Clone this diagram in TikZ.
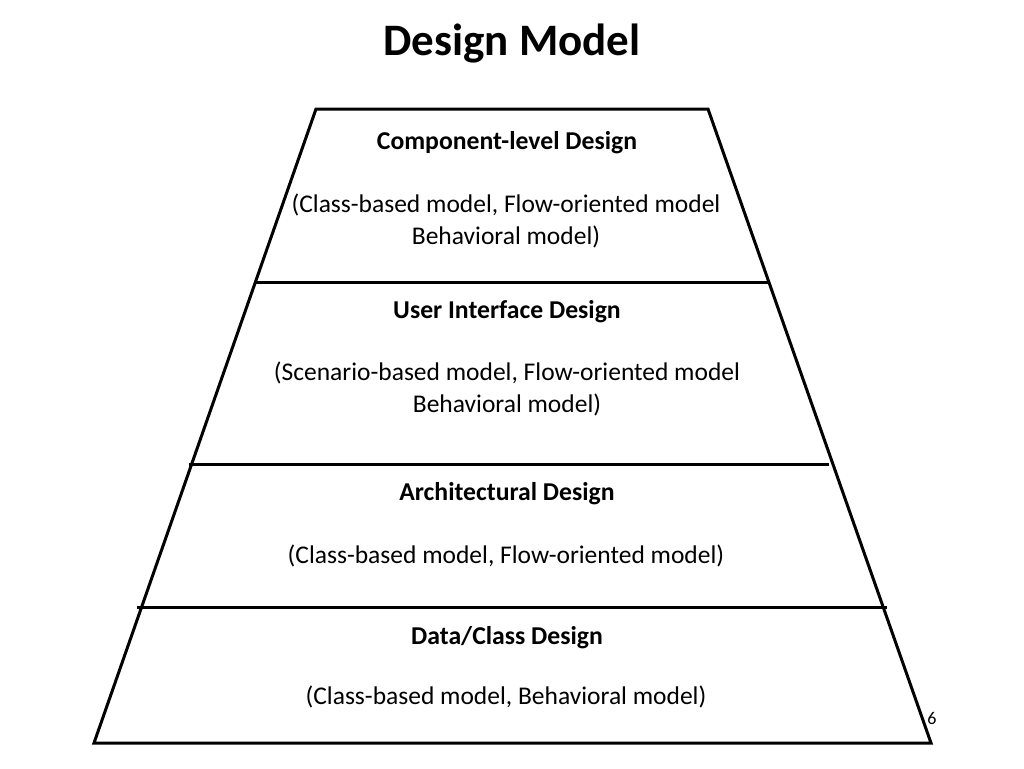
\documentclass[tikz,border=0pt]{standalone}
\usepackage{fontspec}
\setmainfont{Carlito}
\usetikzlibrary{positioning}

\begin{document}
\begin{tikzpicture}[x=1pt, y=-1pt,
    title/.style={font=\fontsize{45}{54}\selectfont\bfseries},
    head/.style={font=\fontsize{25.7}{31}\selectfont\bfseries, inner sep=0pt},
    body/.style={font=\fontsize{25.5}{32}\selectfont, align=center, inner sep=0pt},
    edge/.style={line width=3pt, line join=miter}
]
\useasboundingbox (0,0) rectangle (1024,768);

% pyramid outline
\coordinate (tl) at (316,109);
\coordinate (tr) at (708,109);
\coordinate (bl) at (94,743);
\coordinate (br) at (931,743);
\draw[edge] (tl) -- (tr) -- (br) -- (bl) -- cycle;

% layer separators
\coordinate (s1l) at (256,282);  \coordinate (s1r) at (770,282);
\coordinate (s2l) at (189,464);  \coordinate (s2r) at (829,464);
\coordinate (s3l) at (137,607);  \coordinate (s3r) at (887,607);
\draw[edge] (s1l) -- (s1r);
\draw[edge] (s2l) -- (s2r);
\draw[edge] (s3l) -- (s3r);

\node[title] (ttl) at (512,44) {Design Model};

\node[head] (comp) at (507,143) {Component-level Design};
\node[body] (compm) at (506,221) {(Class-based model, Flow-oriented model\\Behavioral model)};

\node[head] (ui) at (507,312) {User Interface Design};
\node[body] (uim) at (507,389) {(Scenario-based model, Flow-oriented model\\Behavioral model)};

\node[head] (arch) at (507,494) {Architectural Design};
\node[body] (archm) at (506,556) {(Class-based model, Flow-oriented model)};

\node[head] (data) at (507,638) {Data/Class Design};
\node[body] (datam) at (506,697) {(Class-based model, Behavioral model)};

\node[font=\fontsize{18}{22}\selectfont, inner sep=0pt] (pg) at (932,718) {6};
\end{tikzpicture}
\end{document}
